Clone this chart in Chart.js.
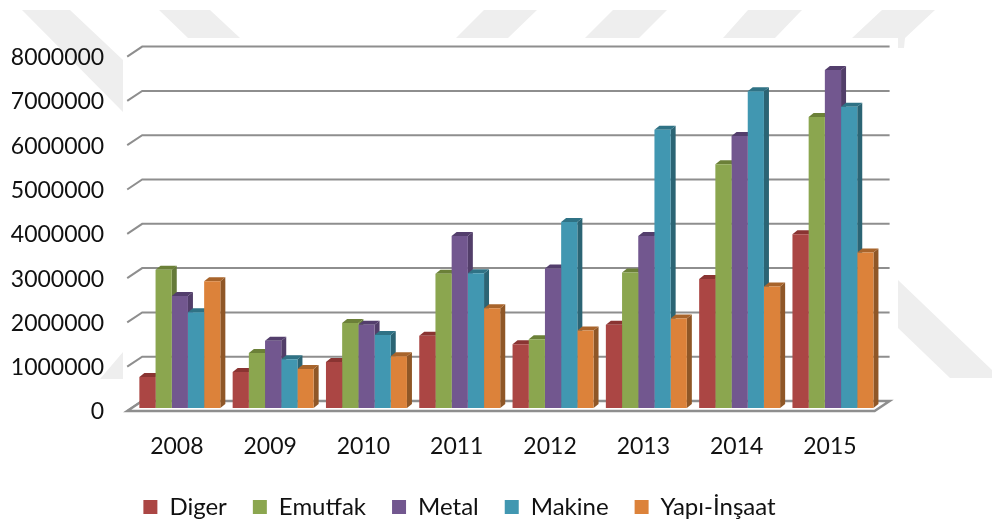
<!DOCTYPE html>
<html>
<head>
<meta charset="utf-8">
<script src="https://cdn.jsdelivr.net/npm/chart.js@4"></script>
<style>
  html, body { margin: 0; background: #fff; }
  canvas { display: block; }
</style>
</head>
<body>
<canvas id="exportChart" width="992" height="522"></canvas>
<script>
// Data
const years = ['2008', '2009', '2010', '2011', '2012', '2013', '2014', '2015'];
const diger = [700000, 810000, 1040000, 1630000, 1440000, 1880000, 2910000, 3920000];
const emutfak = [3120000, 1240000, 1920000, 3030000, 1550000, 3060000, 5500000, 6570000];
const metal = [2530000, 1520000, 1880000, 3880000, 3150000, 3880000, 6140000, 7630000];
const makine = [2160000, 1100000, 1650000, 3040000, 4200000, 6280000, 7150000, 6800000];
const yapiInsaat = [2860000, 880000, 1170000, 2250000, 1750000, 2020000, 2740000, 3510000];
const yTicks = [0, 1000000, 2000000, 3000000, 4000000, 5000000, 6000000, 7000000, 8000000];

// Colours: front, side, top of every bar
const frontColors = ['#AB4644', '#8BA64F', '#72578F', '#4197B1', '#DC823A'];
const sideColors = ['#7E3331', '#657A39', '#523E69', '#2B6474', '#8F5727'];
const topColors = ['#8A3432', '#6B8038', '#533E6C', '#2F7285', '#A8642B'];

const gridColor = '#8e8e8e';
const depthX = 5;
const depthY = 4;

// Faint watermark behind the chart
const watermark = [
  [[22, 10], [70, 10], [123, 60], [123, 112]],
  [[159, 10], [210, 10], [240, 38], [188, 38]],
  [[484, 10], [537, 10], [508, 38], [456, 38]],
  [[613, 10], [667, 10], [639, 38], [585, 38]],
  [[748, 10], [802, 10], [775, 38], [723, 38]],
  [[882, 10], [935, 10], [905, 38], [904, 48], [898, 48], [898, 38], [852, 38]],
  [[898, 280], [992, 370], [992, 378], [950, 378], [898, 328]],
  [[123, 352], [123, 379], [100, 379]]
];

function fillPoly(ctx, points, color) {
  ctx.fillStyle = color;
  ctx.beginPath();
  points.forEach((p, i) => (i ? ctx.lineTo(p[0], p[1]) : ctx.moveTo(p[0], p[1])));
  ctx.closePath();
  ctx.fill();
}

const boxPlugin = {
  id: 'boxPlugin',
  beforeDraw(chart) {
    const ctx = chart.ctx;
    ctx.save();
    watermark.forEach(poly => fillPoly(ctx, poly, '#eeeeee'));
    ctx.restore();
  },
  // the legend is not centred on the picture in the reference
  afterLayout(chart) {
    chart.legend.right = 919;
    chart.legend.top += 7;
  },
  beforeDatasetsDraw(chart) {
    const ctx = chart.ctx;
    const yScale = chart.scales.y;
    const area = chart.chartArea;
    const backLeft = area.left + 9;
    const backRight = area.right + 10;
    const frontLeft = area.left - 6;
    const frontRight = area.right - 5;
    const zeroY = yScale.getPixelForValue(0);

    ctx.save();
    ctx.strokeStyle = gridColor;
    ctx.lineWidth = 2;

    // walls
    yTicks.forEach(v => {
      const y = yScale.getPixelForValue(v);
      ctx.beginPath();
      ctx.moveTo(frontLeft, y + 3);
      ctx.lineTo(backLeft, y - 7);
      ctx.lineTo(backRight, y - 7);
      ctx.stroke();
    });

    // floor
    ctx.fillStyle = '#fff';
    ctx.lineWidth = 2.5;
    ctx.beginPath();
    ctx.moveTo(frontLeft, zeroY + 3);
    ctx.lineTo(backLeft, zeroY - 7);
    ctx.lineTo(backRight, zeroY - 7);
    ctx.lineTo(frontRight, zeroY + 3);
    ctx.closePath();
    ctx.fill();
    ctx.stroke();

    // side and top of the bars, left to right, the fronts come on top later
    years.forEach((year, i) => {
      chart.data.datasets.forEach((ds, d) => {
        const bar = chart.getDatasetMeta(d).data[i];
        const left = bar.x - bar.width / 2;
        const right = bar.x + bar.width / 2;
        fillPoly(ctx, [[right, bar.y], [right + depthX, bar.y - depthY],
          [right + depthX, bar.base - depthY], [right, bar.base]], sideColors[d]);
        fillPoly(ctx, [[left, bar.y], [left + depthX, bar.y - depthY],
          [right + depthX, bar.y - depthY], [right, bar.y]], topColors[d]);
      });
    });
    ctx.restore();
  }
};

const seriesNames = ['Diger', 'Emutfak', 'Metal', 'Makine', 'Yapı-İnşaat'];
const seriesValues = [diger, emutfak, metal, makine, yapiInsaat];

const axisFont = { family: 'Lato', size: 23 };
const legendFont = { family: 'Lato', size: 24 };

const chart = new Chart(document.getElementById('exportChart'), {
  type: 'bar',
  data: {
    labels: years,
    datasets: seriesNames.map((name, i) => ({
      label: name,
      data: seriesValues[i],
      backgroundColor: frontColors[i],
      borderWidth: 0,
      barPercentage: 1,
      categoryPercentage: 0.868
    }))
  },
  plugins: [boxPlugin],
  options: {
    responsive: false,
    animation: false,
    layout: { padding: { top: 53.6, right: 112.4 } },
    plugins: {
      title: { display: false },
      tooltip: { enabled: false },
      legend: {
        position: 'bottom',
        labels: {
          font: legendFont,
          color: '#111',
          boxWidth: 14,
          boxHeight: 14,
          padding: 26
        }
      }
    },
    scales: {
      x: {
        grid: { display: false },
        border: { display: false },
        // keeps the base of the bars at the same place whatever the legend needs
        afterFit: s => { s.height = 114 - (s.chart.legend.height || 60); },
        ticks: {
          font: axisFont,
          color: '#111',
          padding: 17,
          labelOffset: -3,
          maxRotation: 0,
          autoSkip: false
        }
      },
      y: {
        min: 0,
        max: 8000000,
        grid: { display: false },
        border: { display: false },
        afterFit: s => { s.width = 133.2; },
        afterBuildTicks: s => { s.ticks = yTicks.map(value => ({ value })); },
        ticks: {
          font: axisFont,
          color: '#111',
          padding: 21,
          labelOffset: 4,
          callback: v => String(v)
        }
      }
    }
  }
});
</script>
</body>
</html>
